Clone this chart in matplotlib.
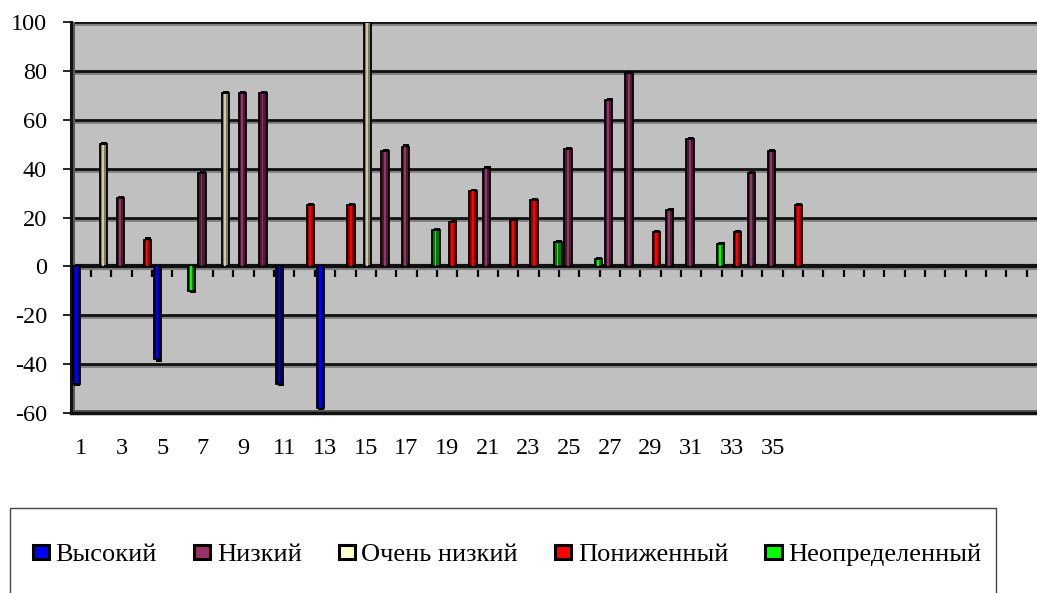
import numpy as np
import matplotlib
matplotlib.use("Agg")
import matplotlib.pyplot as plt
import matplotlib.transforms as mtransforms
from matplotlib.patches import Rectangle, Patch

plt.rcParams['font.family'] = ['Liberation Serif', 'DejaVu Serif']

# ---- data ----
n_cats = 36
categories = list(range(1, n_cats + 1))
series_names = ["Высокий", "Низкий", "Очень низкий", "Пониженный", "Неопределенный"]
vysokiy = {1: -48, 5: -38, 11: -48, 13: -58}
nizkiy = {3: 28, 7: 38, 9: 71, 10: 71, 16: 47, 17: 49, 21: 40, 25: 48, 27: 68,
          28: 79, 30: 23, 31: 52, 34: 38, 35: 47}
ochen_nizkiy = {2: 50, 8: 71, 15: 100}
ponizhenny = {4: 11, 12: 25, 14: 25, 19: 18, 20: 31, 22: 19, 23: 27, 29: 14,
              33: 14, 36: 25}
neopredel = {6: -10, 18: 15, 24: 10, 26: 3, 32: 9}
y_ticks = [100, 80, 60, 40, 20, 0, -20, -40, -60]
x_labels = [str(c) for c in categories if c % 2 == 1]

series = [vysokiy, nizkiy, ochen_nizkiy, ponizhenny, neopredel]
legend_colors = ["#0000FF", "#993366", "#FFFFCC", "#FF0000", "#00FF00"]
dark_colors = ["#000080", "#4A1A33", "#7E7E66", "#990000", "#007A00"]
bright_colors = ["#0000FF", "#993366", "#CCCCA0", "#FF0000", "#00FF00"]
offsets = [-0.22, -0.05, 0.10, 0.28, 0.45]

fig = plt.figure(figsize=(10.37, 5.93), dpi=100)
ax = fig.add_axes([70.7 / 1037, 1 - 413.3 / 593, 1 - 70.7 / 1037, (413.3 - 21.7) / 593])
ax.set_facecolor("#C0C0C0")
ax.set_xlim(0.5, 48.0)
ax.set_ylim(-60, 100)

# gridlines with 3D-ish shadow
ytr = ax.get_yaxis_transform()
shadow = mtransforms.offset_copy(ytr, fig=fig, x=0, y=-2, units='dots')
for yv in y_ticks:
    if yv == -60:
        continue
    lw = 3.0 if yv == 0 else 2.0
    ax.plot([0, 1], [yv, yv], color="#808080", lw=lw, transform=shadow, zorder=1)
    ax.plot([0, 1], [yv, yv], color="#111111", lw=lw, transform=ytr, zorder=1.1)

# left wall band / floor
ax.axvspan(0.5, 0.72, color="#5A5A5A", zorder=1.2, lw=0)
ax.axhspan(-60, -58.8, color="#5A5A5A", zorder=1.2, lw=0)

# bars
for s, data in enumerate(series):
    xs = np.array([c + offsets[s] for c in data.keys()], dtype=float)
    vals = np.array(list(data.values()), dtype=float)
    ax.bar(xs, vals, width=0.36, color=dark_colors[s], edgecolor="black",
           linewidth=1.3, zorder=3)
    ax.bar(xs - 0.02, vals, width=0.09, color=bright_colors[s], linewidth=0, zorder=4)
    cap = 1.2 * np.sign(vals)
    ax.bar(xs + 0.04, cap, bottom=vals - cap * 0.3, width=0.30, color="black",
           linewidth=0, zorder=5)

for sp in ["top", "right"]:
    ax.spines[sp].set_visible(False)
ax.spines["left"].set_linewidth(2.2)
ax.spines["left"].set_color("#111111")
ax.spines["bottom"].set_linewidth(2.5)
ax.spines["bottom"].set_color("#111111")

ax.set_yticks(y_ticks)
ax.set_yticklabels([str(v) for v in y_ticks], fontsize=17.5, family="Liberation Serif")
ax.tick_params(axis="y", length=6, width=1.2, pad=11, color="black")

ax.set_xticks(categories[::2])
ax.set_xticklabels(x_labels, fontsize=17.5, family="Liberation Serif")
ax.tick_params(axis="x", length=0, pad=18)

# category boundary tick marks on the zero line
sec = ax.secondary_xaxis(60 / 160)
sec.set_xticks(np.arange(1.5, 48.0, 1.0))
sec.set_xticklabels([])
sec.tick_params(axis="x", direction="out", length=8, width=1.6, color="black", pad=0)
sec.spines["bottom"].set_visible(False)

# legend box
fig.patches.append(Rectangle((10 / 1037, -0.05), (996 - 10) / 1037, 1.05 - 508 / 593,
                             transform=fig.transFigure, fill=False, edgecolor="#444444",
                             linewidth=1.0))
handles = [Patch(facecolor=c, edgecolor="black", linewidth=2.2) for c in legend_colors]
leg = fig.legend(handles, series_names, loc="center", bbox_to_anchor=(507 / 1037, 1 - 555 / 593),
                 ncol=5, frameon=False, prop={"family": "Liberation Serif", "size": 19},
                 handlelength=0.62, handleheight=0.45,
                 handletextpad=0.25, columnspacing=1.4, borderaxespad=0)

fig.savefig("out.png", dpi=100)
